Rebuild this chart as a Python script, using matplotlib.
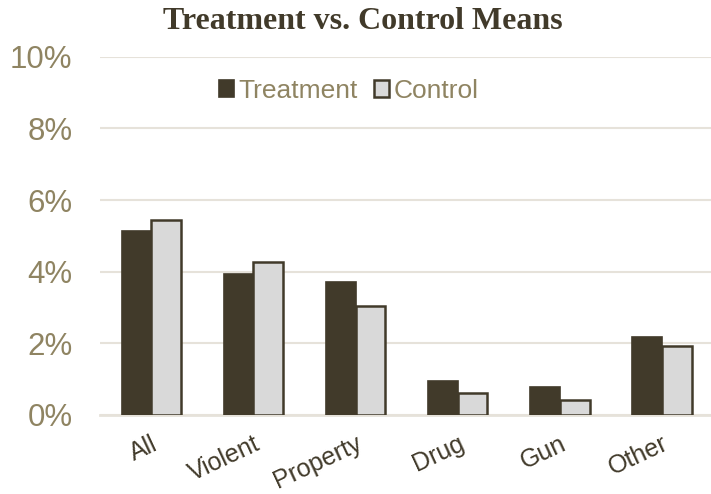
import numpy as np
import matplotlib.pyplot as plt
from matplotlib.ticker import PercentFormatter

# Mean rates by offense type
categories = ['All', 'Violent', 'Property', 'Drug', 'Gun', 'Other']
treatment = [5.14, 3.93, 3.72, 0.95, 0.78, 2.18]
control = [5.45, 4.27, 3.04, 0.61, 0.42, 1.93]

dark = '#413a2a'
light = '#d9d9d9'
tan = '#8f8462'
grid = '#e6e2da'

fig = plt.figure(figsize=(7.11, 4.94), dpi=100)
ax = fig.add_axes([0.141, 0.160, 0.862, 0.725])

x = np.arange(len(categories))
w = 0.29
ax.bar(x - w / 2, treatment, w, color=dark, edgecolor=dark, linewidth=1.2, label='Treatment', zorder=3)
ax.bar(x + w / 2, control, w, color=light, edgecolor=dark, linewidth=1.8, label='Control', zorder=3)

ax.set_xlim(-0.5, len(categories) - 0.5)
ax.set_ylim(0, 10)
ax.set_yticks(np.arange(0, 11, 2))
ax.yaxis.set_major_formatter(PercentFormatter(decimals=0))
ax.yaxis.grid(True, color=grid, linewidth=1.5, zorder=0)
for s in ['top', 'right', 'left']:
    ax.spines[s].set_visible(False)
ax.spines['bottom'].set_color(grid)
ax.spines['bottom'].set_linewidth(2)
ax.tick_params(axis='y', length=0, labelsize=22.5, labelcolor=tan, pad=20)
ax.tick_params(axis='x', length=0, labelsize=18, labelcolor=dark, pad=12)
ax.set_xticks(x)
ax.set_xticklabels(categories, rotation=25, ha='right', rotation_mode='anchor',
                   fontfamily='Liberation Sans')
for lbl in ax.get_yticklabels():
    lbl.set_fontfamily('Liberation Sans')

fig.text(0.51, 0.957, 'Treatment vs. Control Means', ha='center', va='center', fontsize=23,
         fontweight='bold', fontfamily='Liberation Serif', color=dark)

leg = ax.legend(loc='upper center', bbox_to_anchor=(0.405, 1.005), ncol=2, frameon=False,
                prop={'family': 'Liberation Sans', 'size': 19}, handlelength=0.6,
                handleheight=0.6, handletextpad=0.15, columnspacing=0.6)
for t in leg.get_texts():
    t.set_color(tan)

fig.savefig('out.png', dpi=100)
